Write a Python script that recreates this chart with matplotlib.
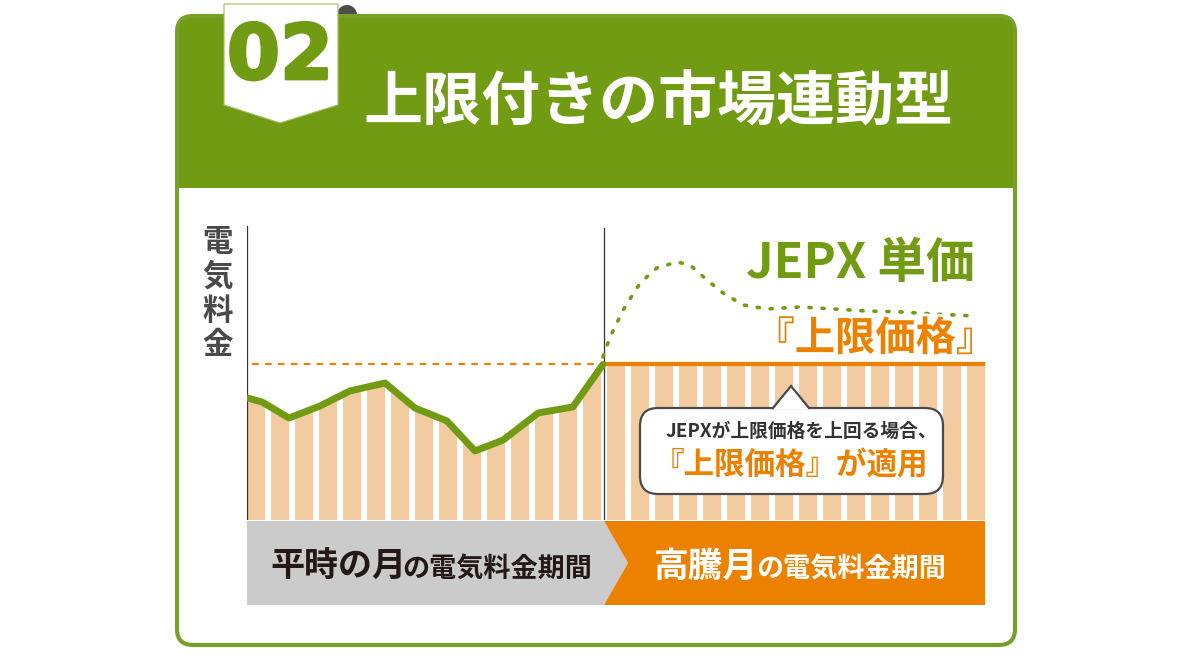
import matplotlib
matplotlib.use('Agg')
import matplotlib.pyplot as plt
from matplotlib.patches import FancyBboxPatch, Polygon, Circle, Rectangle
import matplotlib.patheffects as pe

plt.rcParams['font.family'] = ['Noto Sans CJK JP', 'DejaVu Sans']

# ---------------- data ----------------
n_normal = 15          # bars in the normal-month period
n_spike = 16           # bars in the price-spike period
cap_price = 10.0       # 上限価格
normal_bar_heights = [7.85, 7.25, 7.16, 7.88, 8.46, 8.81, 8.49, 7.20,
                      6.58, 5.27, 5.24, 6.43, 7.05, 7.63, 9.82]
spike_bar_heights = [10.0, 10.0, 10.0, 10.0, 10.0, 10.0, 10.0, 10.0,
                     10.0, 10.0, 10.0, 10.0, 10.0, 10.0, 10.0, 10.0]
price_line_x = [0.0, 0.625, 1.75, 3.04, 4.29, 5.75, 7.0, 8.33, 9.5,
                10.67, 12.13, 13.58, 14.83]
price_line_y = [7.85, 7.59, 6.56, 7.33, 8.30, 8.81, 7.20, 6.37, 4.44,
                5.14, 6.88, 7.27, 10.0]
jepx_x = [14.83, 15.13, 15.67, 16.38, 17.08, 17.92, 18.46, 19.17, 19.83,
          20.67, 21.67, 23.04, 24.42, 25.83, 27.21, 28.58, 30.33]
jepx_y = [10.48, 11.77, 13.50, 15.24, 16.21, 16.59, 16.40, 15.43, 14.60,
          13.83, 13.57, 13.70, 13.57, 13.44, 13.38, 13.25, 13.12]

number_label = '02'
title = '上限付きの市場連動型'
y_label = '電気料金'
jepx_label = 'JEPX 単価'
cap_label = '『上限価格』'
note_line1 = 'JEPXが上限価格を上回る場合、'
note_line2 = '『上限価格』が適用'
period1_big, period1_small = '平時の月', 'の電気料金期間'
period2_big, period2_small = '高騰月', 'の電気料金期間'

# ---------------- colours ----------------
GREEN = '#729b14'
FRAME = '#77a02a'
ORANGE = '#ec8100'
PEACH = '#f3cba1'
GRAY = '#cbcbcb'
DARK = '#4a4a4a'

W, H = 1192, 654
fig = plt.figure(figsize=(W / 100, H / 100), dpi=100)
bg = fig.add_axes([0, 0, 1, 1])
bg.set_xlim(0, W)
bg.set_ylim(H, 0)
bg.axis('off')

# frame + header
bg.add_patch(FancyBboxPatch((177, 16), 838, 629, boxstyle='round,pad=0,rounding_size=16',
                            fc='white', ec='none', zorder=1))
bg.add_patch(Circle((347, 15), 10, fc='#4d4d4d', ec='none', zorder=1.5))
bg.add_patch(FancyBboxPatch((177, 16), 838, 200, boxstyle='round,pad=0,rounding_size=16',
                            fc=GREEN, ec='none', zorder=2))
bg.add_patch(Rectangle((179, 188), 834, 40, fc='white', ec='none', zorder=2.1))
bg.add_patch(FancyBboxPatch((177, 16), 838, 629, boxstyle='round,pad=0,rounding_size=16',
                            fc='none', ec=FRAME, lw=3, zorder=3))
# ribbon tag
bg.add_patch(Polygon([(224, 4), (338, 4), (338, 105), (280, 123), (224, 105)],
                     closed=True, fc='white', ec='#9dbb5a', lw=0.8, zorder=4))
bg.text(280, 58, number_label, fontsize=55, weight='bold', color=GREEN,
        ha='center', va='center', family=['DejaVu Sans'], zorder=5,
        path_effects=[pe.withStroke(linewidth=2, foreground=GREEN)])
bg.text(363, 104, title, fontsize=42.5, weight='bold', color='white',
        ha='left', va='center', zorder=5)

# y label (vertical stacked)
for k, ch in enumerate(y_label):
    bg.text(218, 242 + 34.3 * k, ch, fontsize=22, weight='bold', color=DARK,
            ha='center', va='center', zorder=5)

# period bands
bg.add_patch(Polygon([(247, 521), (604, 521), (628, 563), (604, 605), (247, 605)],
                     closed=True, fc=GRAY, ec='none', zorder=4))
bg.add_patch(Polygon([(604, 521), (985, 521), (985, 605), (604, 605), (628, 563)],
                     closed=True, fc=ORANGE, ec='none', zorder=4))

# ---------------- chart axes ----------------
ax = fig.add_axes([247 / W, (H - 520) / H, 738 / W, 295 / H])
ax.set_xlim(0, 30.75)
ax.set_ylim(0, 18.97)
ax.axis('off')
ax.patch.set_alpha(0)

clip = Polygon(list(zip(price_line_x, price_line_y)) + [(price_line_x[-1], 0), (0, 0)],
               closed=True, transform=ax.transData)
bars1 = ax.bar([i + 0.375 for i in range(n_normal)], normal_bar_heights, width=0.75,
               color=PEACH, zorder=1)
for b in bars1:
    b.set_clip_path(clip)
ax.bar([n_normal + i + 0.375 for i in range(n_spike)], spike_bar_heights, width=0.75,
       color=PEACH, zorder=1)

# axes lines
ax.plot([0, 0], [0, 18.9], color='#333333', lw=0.9, zorder=2)
ax.plot([n_normal - 0.125, n_normal - 0.125], [0, 18.78], color='#333333', lw=0.9, zorder=2)

# cap lines
ax.plot([0.25, price_line_x[-1]], [cap_price, cap_price], color=ORANGE, lw=1.6,
        dashes=(2.2, 3.6), dash_capstyle='round', zorder=3)
ax.plot([n_normal - 0.125, 30.75], [cap_price, cap_price], color=ORANGE, lw=3,
        solid_capstyle='round', zorder=3)

# price lines
ax.plot(price_line_x, price_line_y, color=GREEN, lw=5, solid_joinstyle='round',
        solid_capstyle='round', zorder=4)
ax.plot(jepx_x, jepx_y, color=GREEN, lw=2.6, linestyle=(0, (0.6, 3.0)),
        dash_capstyle='round', zorder=4)

# ---------------- overlay (callout & labels) ----------------
ov = fig.add_axes([0, 0, 1, 1])
ov.set_xlim(0, W)
ov.set_ylim(H, 0)
ov.axis('off')
ov.patch.set_alpha(0)

ov.text(975, 263, jepx_label, fontsize=35, weight='bold', color=GREEN,
        ha='right', va='center', zorder=6)
ov.text(996, 339, cap_label, fontsize=29, weight='bold', color=ORANGE,
        ha='right', va='center', zorder=6,
        path_effects=[pe.withStroke(linewidth=4, foreground='white')])

ov.add_patch(FancyBboxPatch((640, 408), 303, 86, boxstyle='round,pad=0,rounding_size=18',
                            fc='white', ec=DARK, lw=1.6, zorder=7))
ov.add_patch(Polygon([(773, 409.5), (791, 386), (809, 409.5)], closed=True,
                     fc='white', ec='none', zorder=7.5))
ov.plot([773, 791, 809], [408, 386, 408], color=DARK, lw=1.6, zorder=7.6,
        solid_joinstyle='miter')
ov.text(801, 431, note_line1, fontsize=13.5, weight='bold', color='#333333',
        ha='center', va='center', zorder=8)
ov.text(791, 465, note_line2, fontsize=22, weight='bold', color=ORANGE,
        ha='center', va='center', zorder=8)

# band texts (mixed sizes)
fig.canvas.draw()
r = fig.canvas.get_renderer()
t1 = ov.text(270, 577, period1_big, fontsize=24.5, weight='bold', color='#231815',
             ha='left', va='baseline', zorder=6)
x1 = t1.get_window_extent(r).x1
ov.text(x1 - 4, 577, period1_small, fontsize=19.5, weight='bold', color='#231815',
        ha='left', va='baseline', zorder=6)
t2 = ov.text(654, 577, period2_big, fontsize=25, weight='bold', color='white',
             ha='left', va='baseline', zorder=6)
x2 = t2.get_window_extent(r).x1
ov.text(x2 - 2, 577, period2_small, fontsize=19.5, weight='bold', color='white',
        ha='left', va='baseline', zorder=6)

fig.savefig('out.png', dpi=100)
